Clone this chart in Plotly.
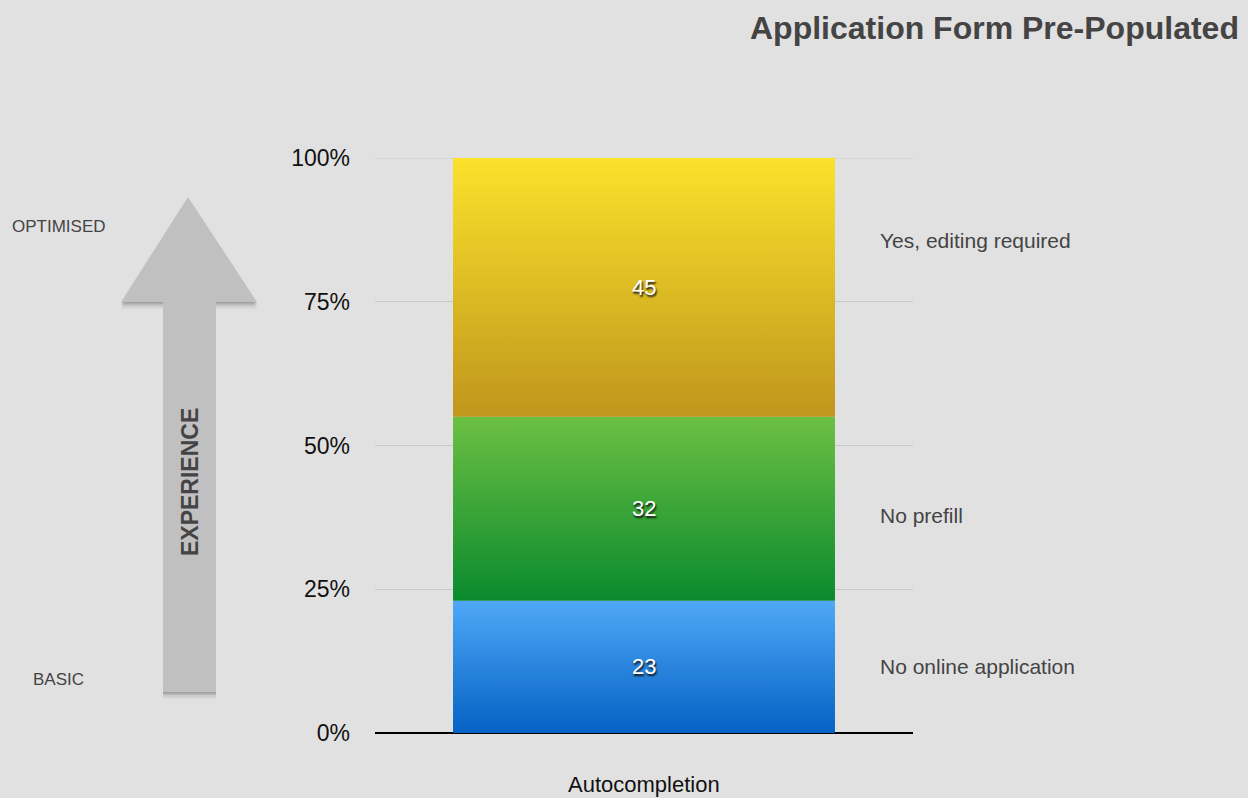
import plotly.graph_objects as go

# ---- data ----
category = "Autocompletion"
segment_names = ["No online application", "No prefill", "Yes, editing required"]
segment_values = [23, 32, 45]
y_tick_vals = [0, 25, 50, 75, 100]
y_tick_text = ["0%", "25%", "50%", "75%", "100%"]

# ---- styles ----
grad_bottom = ["#0561c4", "#0a8a2e", "#c0961c"]
grad_top = ["#4fa8f7", "#6cc043", "#fbe22c"]
label_y = [11.65, 37.9, 85.7]
BAR_W = 0.71
BG = "#e1e1e1"
TXT = "#444444"
FONT = "Liberation Sans, Arial, sans-serif"

fig = go.Figure()

base = 0
for i, v in enumerate(segment_values):
    x0, x1 = -BAR_W / 2, BAR_W / 2
    y0, y1 = base, base + v
    fig.add_trace(go.Scatter(
        x=[x0, x1, x1, x0, x0], y=[y0, y0, y1, y1, y0],
        mode="lines", fill="toself", line=dict(width=0),
        fillgradient=dict(type="vertical",
                          colorscale=[[0, grad_bottom[i]], [1, grad_top[i]]]),
        showlegend=False, hoverinfo="skip"))
    fig.add_annotation(x=0, y=(y0 + y1) / 2, xref="x", yref="y", text=str(v),
                       showarrow=False, xanchor="center", yanchor="middle",
                       font=dict(family=FONT, size=22, color="white",
                                 shadow="1px 2px 2px #111"))
    fig.add_annotation(x=0.935, y=label_y[i], xref="paper", yref="y",
                       text=segment_names[i], showarrow=False, xanchor="left",
                       yanchor="middle",
                       font=dict(family=FONT, size=21, color=TXT))
    base += v

# helper: pixel -> paper
def px(x):
    return (x - 375) / 538.0

def py(y):
    return (733 - y) / 575.0

# 100% gridline (edge of range)
fig.add_shape(type="line", xref="paper", yref="y", x0=0, x1=1, y0=100, y1=100,
              line=dict(color="#c8c8c8", width=1), layer="below")

# arrow (decoration)
arrow_pts = [(188, 197), (257, 302), (216, 302), (216, 692), (163, 692),
             (163, 302), (121, 302)]

def path(pts, dx=0, dy=0):
    s = "M " + " L ".join(f"{px(x+dx):.4f},{py(y+dy):.4f}" for x, y in pts)
    return s + " Z"

for k, op in [(7, 0.04), (5, 0.06), (3, 0.09), (1.5, 0.12)]:
    fig.add_shape(type="path", xref="paper", yref="paper",
                  path=path(arrow_pts, 0, k), fillcolor="#000000",
                  opacity=op, line=dict(width=0), layer="below")
fig.add_shape(type="path", xref="paper", yref="paper", path=path(arrow_pts),
              fillcolor="#c0c0c0", line=dict(width=0), layer="below")

fig.add_annotation(x=px(190), y=py(482), xref="paper", yref="paper",
                   text="<b>EXPERIENCE</b>", textangle=-90, showarrow=False,
                   xanchor="center", yanchor="middle",
                   font=dict(family=FONT, size=23, color=TXT))
fig.add_annotation(x=px(59), y=py(226), xref="paper", yref="paper",
                   text="OPTIMISED", showarrow=False, xanchor="center",
                   yanchor="middle",
                   font=dict(family=FONT, size=17, color=TXT))
fig.add_annotation(x=px(58), y=py(679), xref="paper", yref="paper",
                   text="BASIC", showarrow=False, xanchor="center",
                   yanchor="middle",
                   font=dict(family=FONT, size=17, color=TXT))

# title
fig.add_annotation(x=px(1241), y=py(28), xref="paper", yref="paper",
                   text="<b>Application Form Pre-Populated</b>", showarrow=False,
                   xanchor="right", yanchor="middle",
                   font=dict(family=FONT, size=32, color=TXT))
# x category label
fig.add_annotation(x=0, y=py(784), xref="x", yref="paper", text=category,
                   showarrow=False, xanchor="center", yanchor="middle",
                   font=dict(family=FONT, size=22, color="#111"))

fig.update_layout(
    width=1248, height=798,
    margin=dict(l=375, r=335, t=158, b=65),
    paper_bgcolor=BG, plot_bgcolor=BG,
    xaxis=dict(range=[-0.5, 0.5], showgrid=False, zeroline=False,
               showticklabels=False, fixedrange=True),
    yaxis=dict(range=[0, 100], tickvals=y_tick_vals, ticktext=y_tick_text,
               showgrid=True, gridcolor="#c8c8c8", gridwidth=1,
               zeroline=True, zerolinecolor="#000000", zerolinewidth=2,
               ticklabelstandoff=24,
               tickfont=dict(family=FONT, size=23, color="#111"),
               fixedrange=True),
    showlegend=False,
)

fig.write_html("out.html", config={"displayModeBar": False},
               post_script="document.body.style.margin='0';"
                           "document.body.style.background='#e1e1e1';")
